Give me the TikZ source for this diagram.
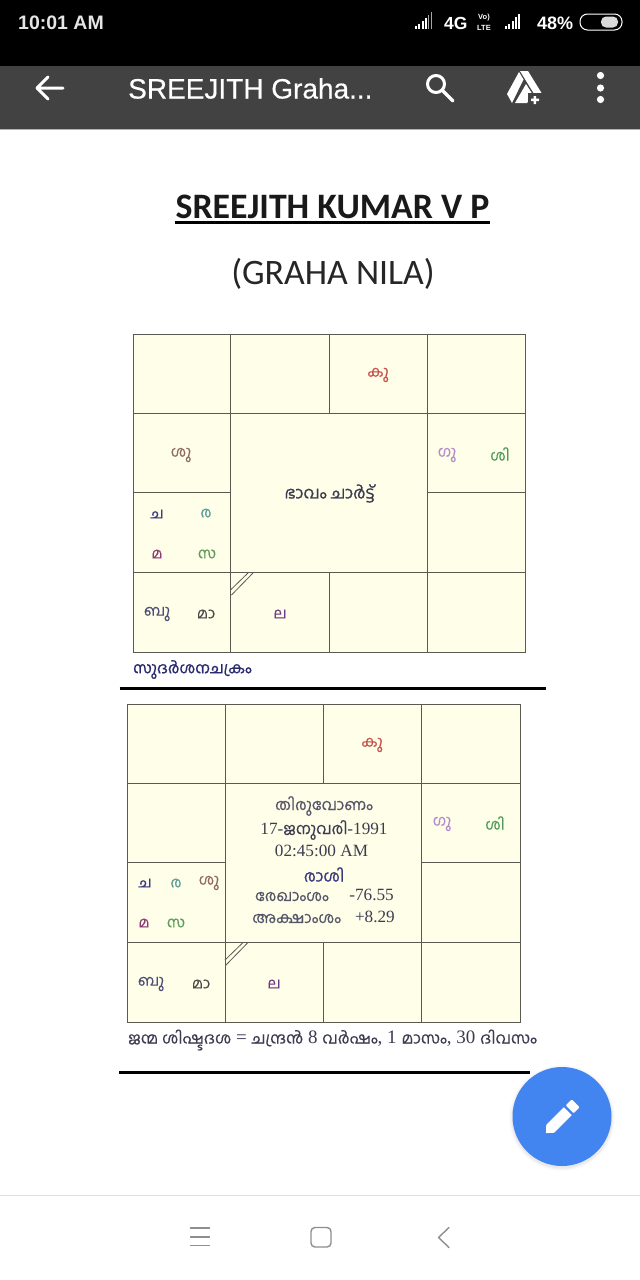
\documentclass[tikz,border=0pt]{standalone}
\usepackage{fontspec}
\setmainfont{Liberation Serif}
\newfontfamily\mal[Script=Malayalam,FakeBold=0.35]{Hind Kochi}
\newfontfamily\malb[Script=Malayalam,FakeBold=1]{Hind Kochi}
\newfontfamily\uifont{Liberation Sans}
\newfontfamily\uimed[FakeBold=0.4]{Liberation Sans}
\newfontfamily\titlefont{Carlito}
\definecolor{chartbg}{HTML}{FFFFE9}
\definecolor{gridc}{HTML}{5A5A52}
\definecolor{barc}{HTML}{424242}
\definecolor{fabc}{HTML}{4285F0}
\definecolor{navc}{HTML}{8E8E8E}
\definecolor{cKe}{HTML}{C8504A}
\definecolor{cSu}{HTML}{8F6A5E}
\definecolor{cCh}{HTML}{3A3A80}
\definecolor{cRa}{HTML}{5A9A98}
\definecolor{cMa}{HTML}{8E3A78}
\definecolor{cSa}{HTML}{5E9A5A}
\definecolor{cBu}{HTML}{4E4E78}
\definecolor{cMd}{HTML}{4A4A4A}
\definecolor{cLa}{HTML}{6E3A86}
\definecolor{cGu}{HTML}{B48CCC}
\definecolor{cSh}{HTML}{4E9A58}
\definecolor{cHead}{HTML}{2A2A70}
\definecolor{cCen}{HTML}{3C3C50}
\definecolor{cCenL}{HTML}{55556A}
\tikzset{
  grid line/.style={draw=gridc,line width=1.3pt},
  chart fill/.style={fill=chartbg,draw=none},
  pl/.style={font=\mal\fontsize{15}{15}\selectfont,inner sep=0pt,yshift=-2pt},
  uitxt/.style={text=white,inner sep=0pt},
  slash/.style={draw=gridc,line width=0.8pt},
  rule/.style={draw=black,line width=3pt},
  navline/.style={draw=navc,line width=1.4pt,line cap=round,line join=round},
  cen/.style={font=\fontsize{17.2}{17.2}\selectfont,text=cCen,inner sep=0pt},
  cenm/.style={font=\mal\fontsize{15.5}{15.5}\selectfont,text=cCenL,inner sep=0pt,yshift=-1.5pt},
  icon/.style={fill=white,draw=none},
}
\begin{document}
\begin{tikzpicture}[x=1pt,y=-1pt]
\useasboundingbox (0,0) rectangle (640,1280);
\fill[white] (0,0) rectangle (640,1280);
% status bar and app bar
\fill[black] (0,0) rectangle (640,66);
\fill[barc] (0,66) rectangle (640,129);
\draw[gray!60,line width=0.6pt] (0,129.5) -- (640,129.5);
\node[uitxt,anchor=west,font=\uifont\fontsize{19.5}{19.5}\selectfont\bfseries,text=white!90!black] (clock) at (18,23) {10:01 AM};
\foreach \i/\h in {0/3,1/5,2/8,3/11}{\fill[white] (415+\i*3.4,29) rectangle ++(2,-\h);}
\foreach \i/\h in {4/14,5/17}{\fill[gray!70] (416+\i*2.9,29) rectangle ++(1.2,-\h);}
\node[uitxt,anchor=west,font=\uifont\fontsize{17.5}{17.5}\selectfont\bfseries] (net) at (444,23.5) {4G};
\node[uitxt,font=\uifont\fontsize{7.5}{7.5}\selectfont\bfseries] (vo) at (484,17.5) {Vo)};
\node[uitxt,font=\uifont\fontsize{7.5}{7.5}\selectfont\bfseries] (lte) at (484,28) {LTE};
\foreach \i/\h in {0/3,1/5,2/8,3/12,4/15}{\fill[white] (505+\i*3.3,29) rectangle ++(2,-\h);}
\node[uitxt,anchor=west,font=\uifont\fontsize{18}{18}\selectfont\bfseries] (pct) at (537,23) {48\%};
\draw[white,line width=1pt,rounded corners=7.5pt] (580,14) rectangle (622,30);
\fill[white!85!black,rounded corners=5pt] (601,16.5) rectangle (618,27.5);
% app bar icons and title
\draw[white,line width=3pt,line cap=round,line join=round] (37,88) -- (63,88) (48,77) -- (37,88) -- (48,99);
\node[uitxt,anchor=west,font=\uimed\fontsize{28}{28}\selectfont] (apptitle) at (128,88.5) {SREEJITH Graha...};
\draw[white,line width=3pt] (436,84) circle (8.5);
\draw[white,line width=3.4pt,line cap=round] (442.5,90.5) -- (453,101);
\fill[icon] (520,71) -- (528,71) -- (544,97) -- (536,97) -- cycle;
\fill[icon] (519,72) -- (523.5,79.5) -- (512,103) -- (507,94) -- cycle;
\fill[icon] (526,84) -- (533,95) -- (527,103) -- (515,103) -- cycle;
\fill[barc] (528,93) rectangle (546,106);
\fill[icon] (533.5,96) rectangle (536,104) (531,98.7) rectangle (539,101.2);
\fill[icon] (600.5,75.5) circle (3.6) (600.5,88) circle (3.6) (600.5,99.5) circle (3.6);
% titles
\node[font=\titlefont\bfseries\fontsize{35.8}{35.8}\selectfont,inner sep=0pt,text=black!90] (maintitle) at (332.5,207) {SREEJITH KUMAR V P};
\draw[black,line width=2.4pt] (175,222.5) -- (490,222.5);
\node[font=\titlefont\fontsize{35.8}{35.8}\selectfont,inner sep=0pt,text=black!85] (subtitle) at (333,273.5) {(GRAHA NILA)};
% first chart
\fill[chart fill] (133.5,334.5) rectangle (525.5,652.5);
\draw[grid line] (133.5,334.5) rectangle (525.5,652.5);
\draw[grid line] (133.5,413.5) -- (525.5,413.5) (133.5,572.5) -- (525.5,572.5);
\draw[grid line] (133.5,492.5) -- (230.5,492.5) (427.5,492.5) -- (525.5,492.5);
\draw[grid line] (230.5,334.5) -- (230.5,652.5) (427.5,334.5) -- (427.5,652.5);
\draw[grid line] (329.5,334.5) -- (329.5,413.5) (329.5,572.5) -- (329.5,652.5);
\draw[slash] (230.5,590) -- (248,573) (231.5,595) -- (253,573);
\node[pl,text=cKe] (a1) at (378,373) {കു};
\node[pl,text=cSu] (a2) at (181,453) {ശു};
\node[pl,text=cGu] (a3) at (447,453) {ഗു};
\node[pl,text=cSh] (a4) at (500,452) {ശി};
\node[pl,text=cCh] (a5) at (157,512) {ച};
\node[pl,text=cRa] (a6) at (206,511) {ര};
\node[pl,text=cMa] (a7) at (157,552) {മ};
\node[pl,text=cSa] (a8) at (207,552) {സ};
\node[pl,text=cBu] (a9) at (157,612) {ബു};
\node[pl,text=cMd] (a10) at (206,612) {മാ};
\node[pl,text=cLa] (a11) at (280,612) {ല};
\node[font=\malb\fontsize{16.5}{16.5}\selectfont,text=cCen,inner sep=0pt,yshift=-1.5pt] (a12) at (329.5,492) {ഭാവം ചാർട്ട്};
\node[font=\malb\fontsize{15.4}{15.4}\selectfont,text=cHead,inner sep=0pt,anchor=west,yshift=-1.5pt] (a13) at (133,668) {സുദർശനചക്രം};
\draw[rule] (119.5,688) -- (546,688);
% second chart
\fill[chart fill] (127.5,704.5) rectangle (520.5,1022.5);
\draw[grid line] (127.5,704.5) rectangle (520.5,1022.5);
\draw[grid line] (127.5,783.5) -- (520.5,783.5) (127.5,942.5) -- (520.5,942.5);
\draw[grid line] (127.5,862.5) -- (225.5,862.5) (421.5,862.5) -- (520.5,862.5);
\draw[grid line] (225.5,704.5) -- (225.5,1022.5) (421.5,704.5) -- (421.5,1022.5);
\draw[grid line] (323.5,704.5) -- (323.5,783.5) (323.5,942.5) -- (323.5,1022.5);
\draw[slash] (225,960) -- (242.5,943) (226,965) -- (247.5,943);
\node[pl,text=cKe] (b1) at (372,743) {കു};
\node[pl,text=cGu] (b2) at (442,822) {ഗു};
\node[pl,text=cSh] (b3) at (495,821) {ശി};
\node[pl,text=cCh] (b4) at (145,881) {ച};
\node[pl,text=cRa] (b5) at (176,881) {ര};
\node[pl,text=cSu] (b6) at (209,881) {ശു};
\node[pl,text=cMa] (b7) at (144,921) {മ};
\node[pl,text=cSa] (b8) at (176,921) {സ};
\node[pl,text=cBu] (b9) at (151,982) {ബു};
\node[pl,text=cMd] (b10) at (201,982) {മാ};
\node[pl,text=cLa] (b11) at (274,982) {ല};
\node[cenm,font=\mal\fontsize{15.6}{15.6}\selectfont,yshift=1.5pt] (c1) at (324,806) {തിരുവോണം};
\node[cen] (c2) at (324,830) {17-{\mal\fontsize{15.7}{15.7}\selectfont ജനുവരി}-1991};
\node[cen] (c3) at (321.5,851) {02:45:00 AM};
\node[cenm,font=\malb\fontsize{16}{16}\selectfont,text=cCh] (c4) at (324,873) {രാശി};
\node[cenm,anchor=west] (c5) at (255,895) {രേഖാംശം};
\node[cen,anchor=east] (c6) at (394,895) {-76.55};
\node[cenm,anchor=west] (c7) at (252,917) {അക്ഷാംശം};
\node[cen,anchor=east] (c8) at (395,917) {+8.29};
\node[font=\fontsize{19}{19}\selectfont,text=cCen,inner sep=0pt,anchor=west] (d1) at (128,1040) {{\mal\fontsize{15.8}{15.8}\selectfont ജന്മ ശിഷ്ടദശ} = {\mal\fontsize{15.8}{15.8}\selectfont ചന്ദ്രൻ} 8 {\mal\fontsize{15.8}{15.8}\selectfont വർഷം}, 1 {\mal\fontsize{15.8}{15.8}\selectfont മാസം}, 30 {\mal\fontsize{15.8}{15.8}\selectfont ദിവസം}};
\draw[rule] (119,1072.5) -- (530,1072.5);
% floating button
\foreach \r/\o in {53/0.02,51.5/0.03,50.5/0.03}{\fill[black,opacity=\o] (562,1118) circle (\r);}
\fill[fabc] (562,1116.5) circle (49.5);
\begin{scope}[shift={(561.5,1117.5)},rotate=45]
\fill[icon] (-22,0) -- (-16,-5.5) -- (9,-5.5) -- (9,5.5) -- (-16,5.5) -- cycle;
\fill[icon,rounded corners=1pt] (11.5,-5.5) rectangle (20,5.5);
\end{scope}
% bottom navigation
\draw[gray!25,line width=0.8pt] (0,1195) -- (640,1195);
\draw[navline] (190.5,1228) -- (209.5,1228) (190.5,1237) -- (209.5,1237) (190.5,1245.5) -- (209.5,1245.5);
\draw[navline,rounded corners=4pt] (311,1227.5) rectangle (331,1247);
\draw[navline] (449,1227.5) -- (438.5,1237.5) -- (449,1247.5);
\end{tikzpicture}
\end{document}
